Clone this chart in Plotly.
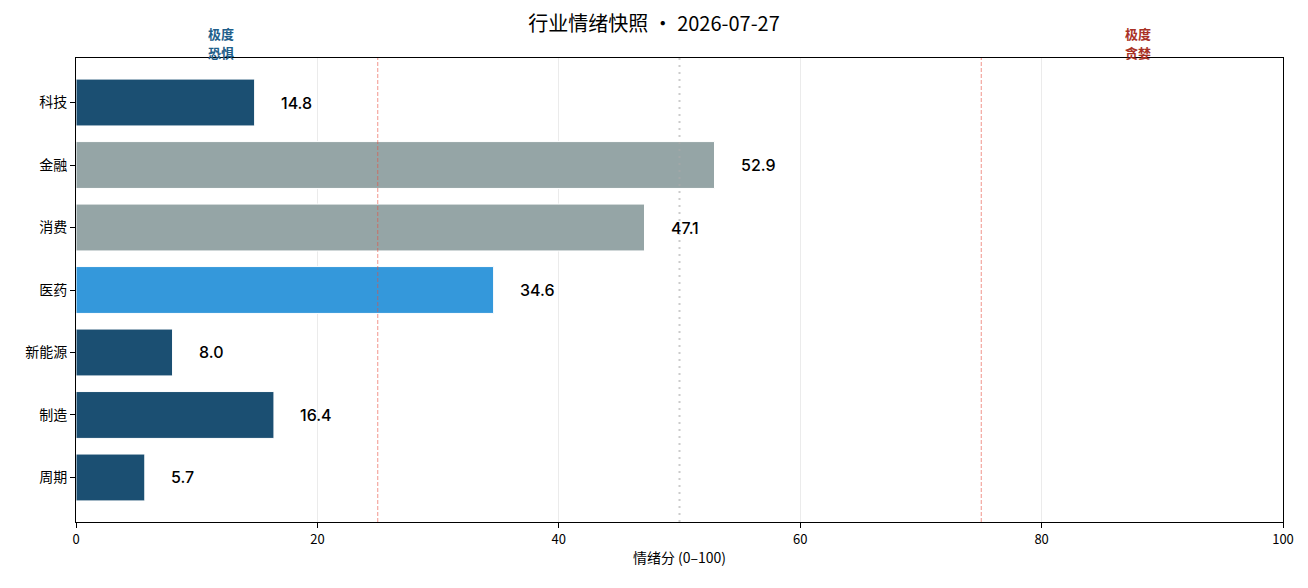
import plotly.graph_objects as go

categories = ["科技", "金融", "消费", "医药", "新能源", "制造", "周期"]
scores = [14.8, 52.9, 47.1, 34.6, 8.0, 16.4, 5.7]
bar_colors = ["#1b4f72", "#95a5a6", "#95a5a6", "#3498db", "#1b4f72", "#1b4f72", "#1b4f72"]
title_text = "行业情绪快照 · 2026-07-27"
x_title = "情绪分 (0–100)"
x_ticks = [0, 20, 40, 60, 80, 100]
zone_labels = [("极度", "恐惧", 12, "#1f5f8b"), ("极度", "贪婪", 88, "#a93226")]

FONT = "Noto Sans CJK SC, Noto Sans, sans-serif"

fig = go.Figure()
fig.add_trace(go.Bar(
    y=categories, x=scores, orientation="h",
    marker=dict(color=bar_colors, line=dict(color="white", width=1)),
    width=0.75, hoverinfo="x+y",
))

for c, v in zip(categories, scores):
    fig.add_annotation(x=v + 2, y=c, text=f"{v:.1f}", showarrow=False,
                       xanchor="left", yanchor="middle",
                       font=dict(size=16, color="black", family="Inter, Noto Sans, sans-serif",
                                 weight=500))

fig.add_vline(x=25, layer="above", line=dict(color="rgba(231,76,60,0.6)", width=1, dash="4px,2px"))
fig.add_vline(x=75, layer="above", line=dict(color="rgba(231,76,60,0.6)", width=1, dash="4px,2px"))
fig.add_vline(x=50, layer="above", line=dict(color="rgba(170,170,170,0.6)", width=2, dash="2px,5px"))

for l1, l2, xv, col in zone_labels:
    for txt, shift in ((l1, 25), (l2, 6)):
        fig.add_annotation(x=xv, y=1.0, yref="paper", yshift=shift, text=txt, showarrow=False,
                           xanchor="center", yanchor="middle",
                           font=dict(size=13, color=col, family=FONT, weight="bold"))

fig.update_layout(
    width=1308, height=588,
    margin=dict(l=76, r=25, t=58, b=66),
    paper_bgcolor="white", plot_bgcolor="white",
    font=dict(family=FONT, size=13, color="black"),
    title=dict(text=title_text, x=0.5, xanchor="center", y=0.96, yanchor="middle",
               font=dict(size=20, color="black", family=FONT)),
    showlegend=False, bargap=0.25,
)
fig.update_xaxes(range=[0, 100], tickvals=x_ticks, ticks="outside", ticklen=5,
                 tickcolor="black", showline=True, linecolor="black", linewidth=1,
                 mirror=True, showgrid=True, gridcolor="rgba(0,0,0,0.08)", gridwidth=1,
                 zeroline=False, tickfont=dict(size=13),
                 title=dict(text=x_title, font=dict(size=14), standoff=6))
fig.update_yaxes(range=[6.7125, -0.7125], ticks="outside", ticklen=5, tickcolor="black",
                 showline=True, linecolor="black", linewidth=1, mirror=True,
                 showgrid=False, tickfont=dict(size=14))

fig.write_html("out.html")
